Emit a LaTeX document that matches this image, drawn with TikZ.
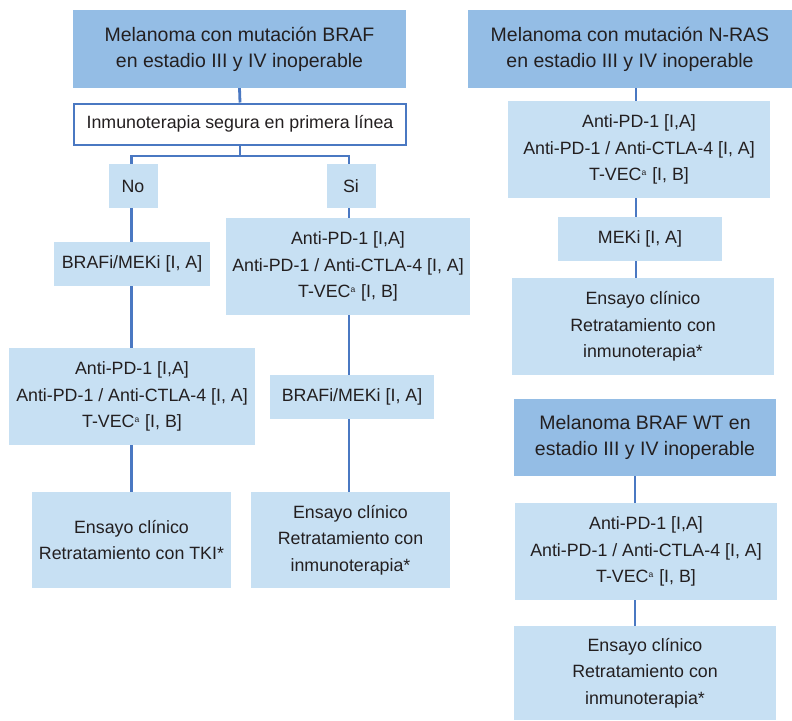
\documentclass[tikz,border=0pt]{standalone}
\usepackage{fontspec}
\setmainfont{Liberation Sans}
\definecolor{darkbox}{RGB}{148,189,229}
\definecolor{lightbox}{RGB}{199,224,243}
\definecolor{linec}{RGB}{74,120,194}
\definecolor{txt}{RGB}{35,31,32}
\tikzset{
  box/.style 2 args={fill=lightbox, draw=none, inner sep=0pt, align=center, text=txt,
    minimum width=#1pt, minimum height=#2pt, font=\fontsize{17.8}{26.7}\selectfont},
  titlebox/.style 2 args={fill=darkbox, draw=none, inner sep=0pt, align=center, text=txt,
    minimum width=#1pt, minimum height=#2pt, font=\fontsize{19.5}{26}\selectfont},
  qbox/.style 2 args={fill=white, draw=linec, line width=2pt, inner sep=0pt, align=center, text=txt,
    minimum width=#1pt, minimum height=#2pt, font=\fontsize{17.8}{26.7}\selectfont},
  conn/.style={draw=linec, line width=2.8pt}
}
\newcommand{\tvec}{T-VEC\raisebox{5.5pt}{\fontsize{8.5}{8.5}\selectfont a}\hspace{1pt} [I, B]}
\begin{document}
\begin{tikzpicture}[x=1pt,y=-1pt]
\useasboundingbox (0,0) rectangle (792,720);
% BRAF column
\node[titlebox={333}{78}] (t1) at (239.5,49) {Melanoma con mutación BRAF\\en estadio III y IV inoperable};
\node[qbox={332}{41}] (q) at (240,124) {Inmunoterapia segura en primera línea};
\node[box={49}{44}] (no) at (133,186) {No};
\node[box={49}{44}] (si) at (351,186) {Si};
\node[box={156}{44}] (bl) at (132,264) {BRAFi/MEKi [I, A]};
\node[box={246}{97}] (al) at (132,396.5) {Anti-PD-1 [I,A]\\Anti-PD-1 / Anti-CTLA-4 [I, A]\\\tvec};
\node[box={199}{96}] (el) at (131.5,540) {Ensayo clínico\\Retratamiento con TKI*};
\node[box={244}{97}] (ar) at (348,266.5) {Anti-PD-1 [I,A]\\Anti-PD-1 / Anti-CTLA-4 [I, A]\\\tvec};
\node[box={164}{44}] (br) at (352,397) {BRAFi/MEKi [I, A]};
\node[box={199}{96}] (er) at (350.5,540) {Ensayo clínico\\Retratamiento con\\inmunoterapia*};
\coordinate (lx) at (131.5,0);
\coordinate (rx) at (349,0);
\coordinate (hy) at (0,156);
\draw[conn] (t1.south) -- (q.north);
\draw[conn] (q.south) -- (q.south |- hy);
\draw[conn] (no.north -| lx) -- (lx |- hy) -- (rx |- hy) -- (si.north -| rx);
\draw[conn] (no.south -| lx) -- (bl.north -| lx);
\draw[conn] (bl.south -| lx) -- (al.north -| lx);
\draw[conn] (al.south -| lx) -- (el.north -| lx);
\draw[conn] (si.south -| rx) -- (ar.north -| rx);
\draw[conn] (ar.south -| rx) -- (br.north -| rx);
\draw[conn] (br.south -| rx) -- (er.north -| rx);
% NRAS column
\node[titlebox={324}{78}] (t2) at (630,49) {Melanoma con mutación N-RAS\\en estadio III y IV inoperable};
\node[box={262}{97}] (an) at (639,149.5) {Anti-PD-1 [I,A]\\Anti-PD-1 / Anti-CTLA-4 [I, A]\\\tvec};
\node[box={164}{44}] (mn) at (640,239) {MEKi [I, A]};
\node[box={262}{97}] (en) at (643,326.5) {Ensayo clínico\\Retratamiento con\\inmunoterapia*};
\coordinate (nx) at (636,0);
\draw[conn] (t2.south -| nx) -- (an.north -| nx);
\draw[conn] (an.south -| nx) -- (mn.north -| nx);
\draw[conn] (mn.south -| nx) -- (en.north -| nx);
% BRAF WT column
\node[titlebox={262}{77}] (t3) at (645,437.5) {Melanoma BRAF WT en\\estadio III y IV inoperable};
\node[box={262}{97}] (aw) at (646,551.5) {Anti-PD-1 [I,A]\\Anti-PD-1 / Anti-CTLA-4 [I, A]\\\tvec};
\node[box={262}{94}] (ew) at (645,673) {Ensayo clínico\\Retratamiento con\\inmunoterapia*};
\coordinate (wx) at (635,0);
\draw[conn] (t3.south -| wx) -- (aw.north -| wx);
\draw[conn] (aw.south -| wx) -- (ew.north -| wx);
\end{tikzpicture}
\end{document}
